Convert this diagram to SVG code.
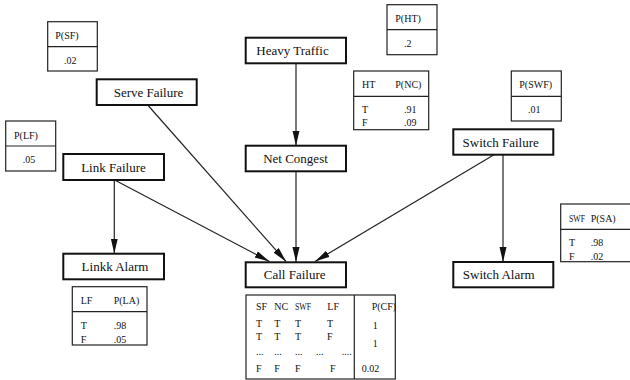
<svg xmlns="http://www.w3.org/2000/svg" width="630" height="380" viewBox="0 0 630 380">
<style>
.node rect{fill:#fff;stroke:#111;stroke-width:2}
.node text{font-family:'Liberation Serif','DejaVu Serif',serif;font-size:13px;fill:#111;text-anchor:middle}
.tbl rect,.tbl line{fill:#fff;stroke:#222;stroke-width:1.2}
.tbl text{font-family:'Liberation Serif','DejaVu Serif',serif;font-size:10px;fill:#111}
.edge{stroke:#222;stroke-width:1.2;fill:none;marker-end:url(#arr)}
</style>
<defs>
<marker id="arr" markerUnits="userSpaceOnUse" markerWidth="16" markerHeight="8" refX="15" refY="3.5" orient="auto">
<path d="M0,0 L15,3.5 L0,7 z" fill="#111"/>
</marker>
</defs>
<g id="connectors">
<line class="edge" x1="296" y1="63.3" x2="296" y2="145.7"/>
<line class="edge" x1="296" y1="171.3" x2="296" y2="262"/>
<line class="edge" x1="147.7" y1="105" x2="286" y2="261.5"/>
<line class="edge" x1="114.3" y1="180" x2="114.3" y2="253.5"/>
<line class="edge" x1="114.6" y1="180" x2="269.5" y2="261.5"/>
<line class="edge" x1="494" y1="154.7" x2="315" y2="261.5"/>
<line class="edge" x1="503" y1="154.7" x2="503" y2="262"/>
</g>
<g id="heavy-traffic" class="node"><rect x="245.7" y="37.7" width="100.3" height="25.6"/><text x="292.5" y="55">Heavy Traffic</text></g>
<g id="net-congest" class="node"><rect x="245.7" y="145.7" width="100.3" height="25.6"/><text x="295.5" y="163">Net Congest</text></g>
<g id="serve-failure" class="node"><rect x="96.7" y="79.3" width="100" height="25.7"/><text x="148.5" y="96.7">Serve Failure</text></g>
<g id="link-failure" class="node"><rect x="63.3" y="154" width="100.7" height="26"/><text x="113.5" y="171.5">Link Failure</text></g>
<g id="switch-failure" class="node"><rect x="453.3" y="129.3" width="100" height="25.4"/><text x="500.7" y="146.5">Switch Failure</text></g>
<g id="linkk-alarm" class="node"><rect x="63.3" y="253.7" width="100.7" height="25.6"/><text x="115" y="271">Linkk Alarm</text></g>
<g id="call-failure" class="node"><rect x="245.7" y="262.3" width="100.3" height="25"/><text x="294.7" y="279.3">Call Failure</text></g>
<g id="switch-alarm" class="node"><rect x="453.3" y="262" width="100" height="25.3"/><text x="498.7" y="279">Switch Alarm</text></g>

<g id="cpt-sf" class="tbl"><rect x="47.7" y="21.7" width="49.6" height="49.3"/><line x1="47.7" y1="46.7" x2="97.3" y2="46.7"/><text x="55.3" y="38.5">P(SF)</text><text x="64" y="63.5">.02</text></g>
<g id="cpt-lf" class="tbl"><rect x="5.7" y="121" width="50" height="50"/><line x1="5.7" y1="146" x2="55.7" y2="146"/><text x="14" y="138.5">P(LF)</text><text x="22.7" y="163">.05</text></g>
<g id="cpt-ht" class="tbl"><rect x="387" y="4.7" width="50" height="50"/><line x1="387" y1="29.7" x2="437" y2="29.7"/><text x="395.3" y="22">P(HT)</text><text x="404" y="47">.2</text></g>
<g id="cpt-nc" class="tbl"><rect x="353.7" y="71" width="75" height="58.7"/><line x1="353.7" y1="96.3" x2="428.7" y2="96.3"/><text x="362" y="88">HT</text><text x="395.3" y="88">P(NC)</text><text x="362" y="112.5">T</text><text x="404" y="112.5">.91</text><text x="362" y="126">F</text><text x="404" y="126">.09</text></g>
<g id="cpt-swf" class="tbl"><rect x="511.3" y="71" width="50" height="50"/><line x1="511.3" y1="96.3" x2="561.3" y2="96.3"/><text x="519.3" y="88">P(SWF)</text><text x="528" y="112.5">.01</text></g>
<g id="cpt-la" class="tbl"><rect x="72.3" y="286.7" width="74.7" height="58.3"/><line x1="72.3" y1="311.7" x2="147" y2="311.7"/><text x="80.7" y="304">LF</text><text x="113.7" y="304">P(LA)</text><text x="80.7" y="329">T</text><text x="113.7" y="329">.98</text><text x="80.7" y="342.5">F</text><text x="113.7" y="342.5">.05</text></g>
<g id="cpt-sa" class="tbl"><rect x="560.7" y="204" width="72" height="57.7"/><line x1="560.7" y1="229.3" x2="632" y2="229.3"/><text x="569" y="221.5" textLength="16" lengthAdjust="spacingAndGlyphs">SWF</text><text x="590.7" y="221.5">P(SA)</text><text x="569" y="246">T</text><text x="590.7" y="246">.98</text><text x="569" y="260">F</text><text x="590.7" y="260">.02</text></g>
<g id="cpt-cf" class="tbl"><rect x="246" y="295" width="149.3" height="84"/><line x1="354.3" y1="295" x2="354.3" y2="379"/>
<text x="256" y="309.5">SF</text><text x="274.3" y="309.5">NC</text><text x="295" y="309.5" textLength="16" lengthAdjust="spacingAndGlyphs">SWF</text><text x="327.3" y="309.5">LF</text><text x="371.7" y="309.5">P(CF)</text>
<text x="256" y="327">T</text><text x="274.3" y="327">T</text><text x="295" y="327">T</text><text x="327" y="327">T</text><text x="372.7" y="329">1</text>
<text x="256" y="340">T</text><text x="274.3" y="340">T</text><text x="295" y="340">T</text><text x="327" y="340">F</text><text x="372.7" y="347">1</text>
<text x="256" y="355">...</text><text x="274.3" y="355">...</text><text x="295" y="355">...</text><text x="316" y="355">...</text><text x="341.7" y="355">....</text>
<text x="256" y="372">F</text><text x="274.3" y="372">F</text><text x="295" y="372">F</text><text x="330" y="372">F</text><text x="361.7" y="372">0.02</text></g>
</svg>
